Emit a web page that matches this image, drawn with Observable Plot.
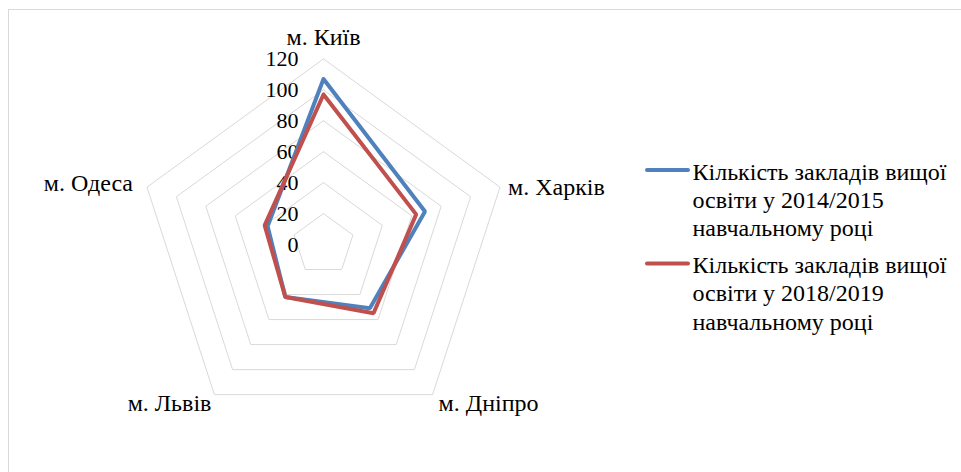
<!DOCTYPE html>
<html>
<head>
<meta charset="utf-8">
<script src="https://cdn.jsdelivr.net/npm/d3@7"></script>
<script src="https://cdn.jsdelivr.net/npm/@observablehq/plot@0.6"></script>
<style>
  html, body { margin: 0; padding: 0; background: #fff; font-family: "Liberation Serif", "Times New Roman", serif; }
  #warm { position: absolute; left: 20px; top: 440px; font-size: 24px; color: #fff; white-space: nowrap; }
  #frame { position: absolute; left: 8px; top: 9px; width: 980px; height: 480px; border: 1px solid #d9d9d9; box-sizing: border-box; z-index: 0; }
  #chart { position: absolute; left: 0; top: 0; z-index: 1; width: 961px; height: 472px; }
  #chart svg text { font-family: "Liberation Serif", "Times New Roman", serif; }
</style>
</head>
<body>
<div id="warm">м. Київ Кількість 0123456789</div>
<div id="frame"></div>
<div id="chart"></div>
<script>
const categories = ["м. Київ", "м. Харків", "м. Дніпро", "м. Львів", "м. Одеса"];
const series1Name = "Кількість закладів вищої освіти у 2014/2015 навчальному році";
const series2Name = "Кількість закладів вищої освіти у 2018/2019 навчальному році";
const series1 = [107, 69, 51, 42, 38];
const series2 = [97, 63, 55, 42, 40];
const tickValues = [0, 20, 40, 60, 80, 100, 120];
const legendLines1 = ["Кількість закладів вищої", "освіти у 2014/2015", "навчальному році"];
const legendLines2 = ["Кількість закладів вищої", "освіти у 2018/2019", "навчальному році"];

const W = 961, H = 472;
const cx = 323, cy = 244, R = 185.6, vmax = 120;
const k = R / vmax;
const n = categories.length;
const ang = i => (i * 2 * Math.PI) / n;
const px = (v, i) => v * Math.sin(ang(i));
const py = (v, i) => v * Math.cos(ang(i));
const ux = p => (p - cx) / k;
const uy = p => (cy - p) / k;

const rings = [];
tickValues.filter(t => t > 0).forEach(t => {
  for (let i = 0; i <= n; i++) rings.push({ring: t, x: px(t, i % n), y: py(t, i % n)});
});
const line1 = [...series1, series1[0]].map((v, i) => ({x: px(v, i % n), y: py(v, i % n)}));
const line2 = [...series2, series2[0]].map((v, i) => ({x: px(v, i % n), y: py(v, i % n)}));
const catLabels = categories.map((c, i) => ({c, i, x: px(vmax, i), y: py(vmax, i)}));

const fam = "Liberation Serif, Times New Roman, serif";
const fs = 24;
const legY1 = 171.5, legY2 = 265, lh = 28.3;
const legText = [];
legendLines1.forEach((t, j) => legText.push({t, x: ux(692), y: uy(legY1 + j * lh)}));
legendLines2.forEach((t, j) => legText.push({t, x: ux(692), y: uy(legY2 + j * lh)}));
const legRules = [
  {y: uy(legY1 - 2), x1: ux(647), x2: ux(688), c: "#4f81bd"},
  {y: uy(legY2 - 2), x1: ux(647), x2: ux(688), c: "#c0504d"}
];

const txt = (data, opts) => Plot.text(data, {fontSize: fs, fill: "black", fontFamily: fam, lineAnchor: "middle", ...opts});

function draw() {
  const chart = Plot.plot({
    width: W, height: H,
    margin: 0,
    style: {background: "transparent", fontFamily: fam},
    x: {type: "linear", domain: [-cx / k, (W - cx) / k], range: [0, W], axis: null},
    y: {type: "linear", domain: [-(H - cy) / k, cy / k], range: [H, 0], axis: null},
    marks: [
      Plot.line(rings, {x: "x", y: "y", z: "ring", stroke: "#d9d9d9", strokeWidth: 1}),
      txt(tickValues, {x: 0, y: d => d, text: d => String(d), textAnchor: "end", dx: -25, fontSize: 22}),
      Plot.line(line1, {x: "x", y: "y", stroke: "#4f81bd", strokeWidth: 4, strokeLinejoin: "miter", strokeLinecap: "round"}),
      Plot.line(line2, {x: "x", y: "y", stroke: "#c0504d", strokeWidth: 4, strokeLinejoin: "miter", strokeLinecap: "round"}),
      txt(catLabels.filter(d => d.i === 0), {x: "x", y: "y", text: "c", textAnchor: "middle", dy: -22}),
      txt(catLabels.filter(d => d.i === 1), {x: "x", y: "y", text: "c", textAnchor: "start", dx: 8, dy: 0}),
      txt(catLabels.filter(d => d.i === 2), {x: "x", y: "y", text: "c", textAnchor: "start", dx: 6, dy: 9}),
      txt(catLabels.filter(d => d.i === 3), {x: "x", y: "y", text: "c", textAnchor: "end", dx: -3, dy: 9}),
      txt(catLabels.filter(d => d.i === 4), {x: "x", y: "y", text: "c", textAnchor: "end", dx: -14, dy: -4}),
      Plot.ruleY(legRules, {y: "y", x1: "x1", x2: "x2", stroke: "c", strokeWidth: 4, strokeLinecap: "round"}),
      txt(legText, {x: "x", y: "y", text: "t", textAnchor: "start"})
    ]
  });
  chart.style.display = "block";
  chart.style.maxWidth = "none";
  const host = document.getElementById("chart");
  host.innerHTML = "";
  host.appendChild(chart);
}
draw();
if (document.fonts && document.fonts.load) {
  document.fonts.load("24px 'Liberation Serif'", "м. Київ 0123").then(draw).catch(() => {});
}
</script>
</body>
</html>
